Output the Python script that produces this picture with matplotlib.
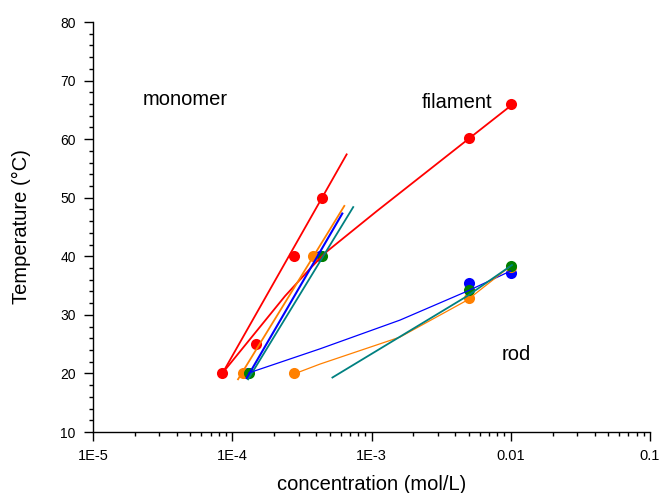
import matplotlib
matplotlib.use("Agg")
import matplotlib.pyplot as plt
from matplotlib.ticker import FixedLocator, NullFormatter, MultipleLocator

plt.rcParams['font.family'] = ['Liberation Sans', 'DejaVu Sans']

# measured points
red_conc = [8.4e-5, 1.48e-4, 2.77e-4, 4.38e-4, 5.0e-3, 0.01]
red_temp = [20, 25, 40, 50, 60.2, 66]
blue_conc = [1.3e-4, 4.3e-4, 5.0e-3, 0.01]
blue_temp = [20, 40, 35.4, 37.2]
orange_conc = [1.19e-4, 2.77e-4, 3.78e-4, 5.0e-3, 0.01]
orange_temp = [20, 20, 40, 32.8, 38.2]
green_conc = [1.32e-4, 4.38e-4, 5.0e-3, 0.01]
green_temp = [20, 40, 34.2, 38.4]

# fitted lines
red_mono_conc = [8.4e-5, 6.63e-4]
red_mono_temp = [19.8, 57.4]
red_fil_conc = [8.4e-5, 1.379e-4, 2.392e-4, 3.721e-4, 4.77e-4, 1.09e-3, 4.95e-3, 0.01]
red_fil_temp = [19.9, 26.2, 33.2, 38.2, 40.8, 47.7, 60.0, 65.7]
orange_mono_conc = [1.10e-4, 6.38e-4]
orange_mono_temp = [19.0, 48.6]
blue_mono_conc = [1.27e-4, 6.17e-4]
blue_mono_temp = [19.2, 47.3]
teal_mono_conc = [1.30e-4, 7.39e-4]
teal_mono_temp = [19.0, 48.4]
blue_rod_conc = [1.32e-4, 4.27e-4, 1.60e-3, 4.93e-3, 0.01]
blue_rod_temp = [20.1, 24.2, 29.1, 34.1, 37.5]
orange_rod_conc = [2.77e-4, 4.27e-4, 1.60e-3, 4.86e-3, 0.0098]
orange_rod_temp = [19.9, 21.6, 26.2, 32.5, 38.2]
teal_rod_conc = [5.24e-4, 4.86e-3, 0.0102]
teal_rod_temp = [19.3, 33.2, 38.5]

xticks = [1e-5, 1e-4, 1e-3, 0.01, 0.1]
xticklabels = ['1E-5', '1E-4', '1E-3', '0.01', '0.1']

fig = plt.figure(figsize=(6.59, 4.93), dpi=100)
ax = fig.add_axes([93/659, 1-432/493, 557/659, 410/493])

ms = 8
ax.plot(red_conc, red_temp, 'o', color='#ff0000', ms=ms, mec='none', zorder=2)
ax.plot(blue_conc, blue_temp, 'o', color='#0000ff', ms=ms, mec='none', zorder=2)
ax.plot(orange_conc, orange_temp, 'o', color='#ff8000', ms=ms, mec='none', zorder=2)
ax.plot(green_conc, green_temp, 'o', color='#008000', ms=ms, mec='none', zorder=2)

ax.plot(red_mono_conc, red_mono_temp, '-', color='#ff0000', lw=1.3, zorder=3)
ax.plot(red_fil_conc, red_fil_temp, '-', color='#ff0000', lw=1.3, zorder=3)
ax.plot(orange_mono_conc, orange_mono_temp, '-', color='#ff8000', lw=1.3, zorder=3)
ax.plot(blue_mono_conc, blue_mono_temp, '-', color='#0000ff', lw=1.5, zorder=3)
ax.plot(teal_mono_conc, teal_mono_temp, '-', color='#008080', lw=1.3, zorder=3)
ax.plot(blue_rod_conc, blue_rod_temp, '-', color='#0000ff', lw=0.9, zorder=3)
ax.plot(orange_rod_conc, orange_rod_temp, '-', color='#ff8000', lw=0.9, zorder=3)
ax.plot(teal_rod_conc, teal_rod_temp, '-', color='#008080', lw=1.3, zorder=3)

ax.text(4.58e-5, 66.7, 'monomer', fontsize=14.5, ha='center', va='center')
ax.text(4.11e-3, 66.2, 'filament', fontsize=14.5, ha='center', va='center')
ax.text(0.0109, 23.3, 'rod', fontsize=14.5, ha='center', va='center')

ax.set_xscale('log')
ax.set_xlim(1e-5, 0.1)
ax.set_ylim(10, 80)
ax.xaxis.set_major_locator(FixedLocator(xticks))
ax.set_xticklabels(xticklabels)
minors = [m * d for d in xticks[:-1] for m in range(2, 10)]
ax.xaxis.set_minor_locator(FixedLocator(minors))
ax.xaxis.set_minor_formatter(NullFormatter())
ax.yaxis.set_major_locator(MultipleLocator(10))
ax.yaxis.set_minor_locator(MultipleLocator(2))

for s in ['top', 'right']:
    ax.spines[s].set_visible(False)
for s in ['left', 'bottom']:
    ax.spines[s].set_linewidth(1.0)
ax.tick_params(which='major', direction='out', length=6.5, width=1.0, pad=6)
ax.tick_params(which='minor', direction='out', length=3, width=1.0)
ax.tick_params(axis='x', labelsize=10.5)
ax.tick_params(axis='y', labelsize=10)

ax.set_xlabel('concentration (mol/L)', fontsize=14.5)
ax.xaxis.set_label_coords(0.5, -0.105)
ax.set_ylabel('Temperature (°C)', fontsize=14.5)
ax.yaxis.set_label_coords(-0.111, 0.5)

fig.savefig('out.png', dpi=100)
